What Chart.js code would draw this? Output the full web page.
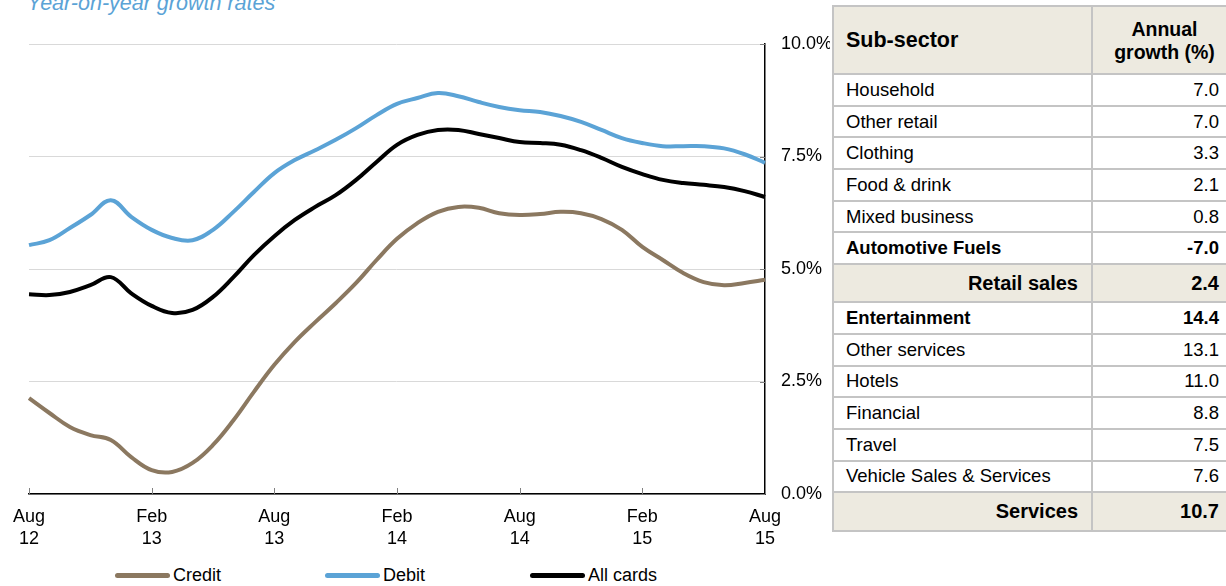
<!DOCTYPE html>
<html>
<head>
<meta charset="utf-8">
<script src="https://cdn.jsdelivr.net/npm/chart.js@4.4.1/dist/chart.umd.min.js"></script>
<style>
  body { margin: 0; width: 1226px; height: 586px; overflow: hidden; background: #fff; font-family: "Liberation Sans", Arial, sans-serif; }
  #wrap { position: absolute; left: 0; top: 0; width: 830px; height: 560px; }
  #title { position: absolute; left: 27px; top: -7px; font-size: 21.5px; line-height: 1; font-style: italic; color: #5ba3d6; white-space: nowrap; }
  #legend { position: absolute; top: 565px; left: 0; width: 830px; height: 22px; font-size: 18px; color: #000; }
  .leg { position: absolute; display: flex; align-items: center; }
  .leg i { display: inline-block; width: 55px; height: 5px; border-radius: 3px; margin-right: 3px; }
  table { position: absolute; left: 832px; top: 5px; width: 400px; table-layout: fixed; border-collapse: collapse; font-size: 18.5px; color: #000; }
  td { border: 2px solid #c4c4c4; padding: 0 13px 0 12px; height: 29.7px; white-space: nowrap; }
  td.v { text-align: right; }
  tr.head td { background: #edeae0; height: 65px; font-weight: bold; }
  tr.head td.s { font-size: 21.5px; }
  tr.head td.v { text-align: center; font-size: 19.5px; line-height: 23px; padding: 1px 0 0 4px; }
  tr.bold td { font-weight: bold; }
  tr.total td { background: #edeae0; font-weight: bold; height: 36px; font-size: 20px; }
  tr.total td.s { text-align: right; }
  tr.total.last td { height: 37px; }
</style>
</head>
<body>
<div id="title">Year-on-year growth rates</div>
<div id="wrap"><canvas id="cardChart" width="830" height="560"></canvas></div>
<div id="legend"></div>
<table id="sectorTable"><colgroup><col style="width:259px"><col style="width:141px"></colgroup><tbody id="sectorBody"></tbody></table>
<script>
const months = [
  "Aug 12", "Sep 12", "Oct 12", "Nov 12", "Dec 12", "Jan 13", "Feb 13", "Mar 13", "Apr 13", "May 13", "Jun 13", "Jul 13",
  "Aug 13", "Sep 13", "Oct 13", "Nov 13", "Dec 13", "Jan 14", "Feb 14", "Mar 14", "Apr 14", "May 14", "Jun 14", "Jul 14",
  "Aug 14", "Sep 14", "Oct 14", "Nov 14", "Dec 14", "Jan 15", "Feb 15", "Mar 15", "Apr 15", "May 15", "Jun 15", "Jul 15",
  "Aug 15",
];

const credit = [
  2.13, 1.8, 1.49, 1.31, 1.2, 0.82, 0.53, 0.49, 0.69, 1.09, 1.64, 2.27,
  2.87, 3.38, 3.82, 4.24, 4.69, 5.2, 5.67, 6.02, 6.27, 6.38, 6.36, 6.24,
  6.2, 6.22, 6.27, 6.24, 6.11, 5.87, 5.49, 5.2, 4.91, 4.71, 4.64, 4.69,
  4.76,
];

const debit = [
  5.53, 5.64, 5.91, 6.2, 6.53, 6.16, 5.87, 5.69, 5.64, 5.87, 6.27, 6.71,
  7.13, 7.42, 7.64, 7.87, 8.13, 8.42, 8.67, 8.8, 8.91, 8.84, 8.71, 8.6,
  8.53, 8.49, 8.4, 8.27, 8.09, 7.91, 7.8, 7.73, 7.73, 7.73, 7.68, 7.55,
  7.36,
];

const allCards = [
  4.44, 4.42, 4.49, 4.64, 4.82, 4.46, 4.18, 4.02, 4.09, 4.38, 4.82, 5.31,
  5.73, 6.09, 6.38, 6.64, 6.98, 7.38, 7.76, 7.98, 8.09, 8.09, 8.0, 7.91,
  7.82, 7.8, 7.76, 7.64, 7.47, 7.27, 7.11, 6.98, 6.91, 6.87, 6.82, 6.73,
  6.6,
];

const yTicks = [0, 2.5, 5, 7.5, 10];

const sectors = [
  "Household", "Other retail", "Clothing", "Food & drink", "Mixed business", "Automotive Fuels", "Retail sales",
  "Entertainment", "Other services", "Hotels", "Financial", "Travel", "Vehicle Sales & Services", "Services",
];
const growth = [7.0, 7.0, 3.3, 2.1, 0.8, -7.0, 2.4, 14.4, 13.1, 11.0, 8.8, 7.5, 7.6, 10.7];
const rowKind = ["", "", "", "", "", "bold", "total", "bold", "", "", "", "", "", "total last"];

const colors = { credit: "#8b7860", debit: "#5ba3d6", all: "#000000" };

// table
let html = '<tr class="head"><td class="s">Sub-sector</td><td class="v">Annual<br>growth (%)</td></tr>';
sectors.forEach((name, i) => {
  html += `<tr class="${rowKind[i]}"><td class="s">${name.replace("&", "&amp;")}</td><td class="v">${growth[i].toFixed(1)}</td></tr>`;
});
document.getElementById("sectorBody").innerHTML = html;

// legend
const legendItems = [
  { label: "Credit", color: colors.credit, left: 115 },
  { label: "Debit", color: colors.debit, left: 325 },
  { label: "All cards", color: colors.all, left: 530 },
];
document.getElementById("legend").innerHTML = legendItems
  .map((it) => `<span class="leg" style="left:${it.left}px"><i style="background:${it.color}"></i>${it.label}</span>`)
  .join("");

// inward tick marks like the original
const innerTicks = {
  id: "innerTicks",
  afterDraw(chart) {
    const { ctx, chartArea, scales } = chart;
    ctx.save();
    ctx.strokeStyle = "#808080";
    ctx.lineWidth = 1;
    months.forEach((m, i) => {
      if (i % 6 !== 0) return;
      const x = Math.round(scales.x.getPixelForValue(i)) + 0.5;
      ctx.beginPath();
      ctx.moveTo(x, chartArea.bottom);
      ctx.lineTo(x, chartArea.bottom - 6);
      ctx.stroke();
    });
    yTicks.forEach((v) => {
      const y = Math.round(scales.y.getPixelForValue(v)) + 0.5;
      ctx.beginPath();
      ctx.moveTo(chartArea.right, y);
      ctx.lineTo(chartArea.right - 5, y);
      ctx.stroke();
    });
    ctx.restore();
  },
};

const lineStyle = { borderWidth: 4, pointRadius: 0, tension: 0.4, fill: false };

new Chart(document.getElementById("cardChart"), {
  type: "line",
  data: {
    labels: months,
    datasets: [
      { label: "Credit", data: credit, borderColor: colors.credit, backgroundColor: colors.credit, ...lineStyle },
      { label: "Debit", data: debit, borderColor: colors.debit, backgroundColor: colors.debit, ...lineStyle },
      { label: "All cards", data: allCards, borderColor: colors.all, backgroundColor: colors.all, ...lineStyle },
    ],
  },
  options: {
    responsive: false,
    animation: false,
    layout: { padding: { left: 28, top: 44, right: 0, bottom: 0 } },
    plugins: { legend: { display: false }, tooltip: { enabled: false } },
    scales: {
      x: {
        offset: false,
        grid: { display: false, drawTicks: false },
        border: { color: "#000", width: 1.5 },
        afterFit: (scale) => { scale.height = 66; },
        ticks: {
          autoSkip: false,
          maxRotation: 0,
          padding: 13,
          color: "#000",
          font: { family: "Liberation Sans", size: 18, lineHeight: 1.17 },
          callback: (val, i) => (i % 6 === 0 ? months[i].split(" ") : ""),
        },
      },
      y: {
        position: "right",
        min: 0,
        max: 10,
        afterBuildTicks: (scale) => { scale.ticks = yTicks.map((v) => ({ value: v })); },
        afterFit: (scale) => { scale.width = 65; },
        grid: { color: "#d9d9d9", lineWidth: 1, drawTicks: false },
        border: { color: "#000", width: 1.5 },
        ticks: {
          padding: 16,
          color: "#000",
          font: { family: "Liberation Sans", size: 18 },
          callback: (v) => v.toFixed(1) + "%",
        },
      },
    },
  },
  plugins: [innerTicks],
});
</script>
</body>
</html>
